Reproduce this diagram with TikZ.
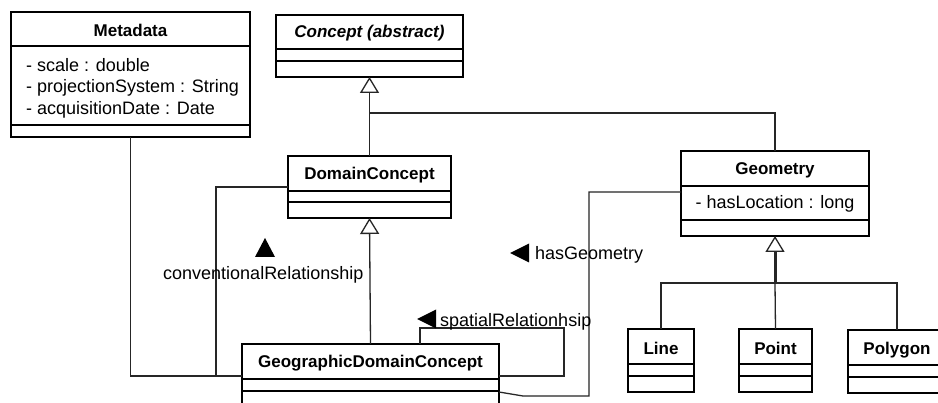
\documentclass[tikz,border=0pt]{standalone}
\usepackage{fontspec}
\setmainfont{Liberation Sans}
\usetikzlibrary{arrows.meta}
\tikzset{
  umlbox/.style={draw=black, line width=2.6pt, fill=white, inner sep=0pt, outer sep=0pt},
  divider/.style={draw=black, line width=1.4pt},
  conn/.style={draw=black!85, line width=1.3pt},
  gen/.style={conn, -{Triangle[open, length=16pt, width=19pt, fill=white]}},
  ttl/.style={font=\fontsize{17}{20}\selectfont\bfseries, inner sep=0pt},
  attr/.style={font=\fontsize{18}{20}\selectfont, inner sep=0pt, anchor=west},
  lbl/.style={font=\fontsize{18}{20}\selectfont, inner sep=0pt, anchor=base west},
  navtri/.style={fill=black, draw=none}
}
\begin{document}
\begin{tikzpicture}[x=1pt,y=-1pt]
\useasboundingbox (0,0) rectangle (938,403);
\clip (0,0) rectangle (938,403);
\fill[white] (0,0) rectangle (938,403);

% ---------- boxes ----------
\node[umlbox, minimum width=239pt, minimum height=125pt] (meta) at (130.5,74.5) {};
\node[umlbox, minimum width=187pt, minimum height=62pt] (concept) at (369.5,46) {};
\node[umlbox, minimum width=163pt, minimum height=62pt] (dc) at (369.5,187) {};
\node[umlbox, minimum width=188pt, minimum height=85pt] (geom) at (775,193.5) {};
\node[umlbox, minimum width=257pt, minimum height=76pt] (gdc) at (370.5,382) {};
\node[umlbox, minimum width=66pt, minimum height=63pt] (line) at (661,360.5) {};
\node[umlbox, minimum width=73pt, minimum height=63pt] (point) at (775.5,360.5) {};
\node[umlbox, minimum width=98pt, minimum height=63pt] (poly) at (897,361.5) {};

% ---------- dividers ----------
\draw[divider] (meta.west |- 0,46) -- (meta.east |- 0,46);
\draw[divider] (meta.west |- 0,125) -- (meta.east |- 0,125);
\draw[divider] (concept.west |- 0,49) -- (concept.east |- 0,49);
\draw[divider] (concept.west |- 0,61) -- (concept.east |- 0,61);
\draw[divider] (dc.west |- 0,191) -- (dc.east |- 0,191);
\draw[divider] (dc.west |- 0,202) -- (dc.east |- 0,202);
\draw[divider] (geom.west |- 0,186) -- (geom.east |- 0,186);
\draw[divider] (geom.west |- 0,220) -- (geom.east |- 0,220);
\draw[divider] (gdc.west |- 0,379) -- (gdc.east |- 0,379);
\draw[divider] (gdc.west |- 0,391) -- (gdc.east |- 0,391);
\draw[divider] (line.west |- 0,364) -- (line.east |- 0,364);
\draw[divider] (line.west |- 0,376) -- (line.east |- 0,376);
\draw[divider] (point.west |- 0,364) -- (point.east |- 0,364);
\draw[divider] (point.west |- 0,376) -- (point.east |- 0,376);
\draw[divider] (poly.west |- 0,365) -- (poly.east |- 0,365);
\draw[divider] (poly.west |- 0,377) -- (poly.east |- 0,377);

% ---------- texts ----------
\node[ttl] (metaT) at (130.5,30) {Metadata};
\node[attr] (metaA1) at (26,65) {- scale : double};
\node[attr] (metaA2) at (26,88) {- projectionSystem : String};
\node[attr] (metaA3) at (26,110) {- acquisitionDate : Date};
\node[ttl, font=\fontsize{17}{20}\selectfont\bfseries\itshape] (conceptT) at (369.5,33) {Concept (abstract)};
\node[ttl] (dcT) at (369.5,175) {DomainConcept};
\node[ttl] (geomT) at (775,170) {Geometry};
\node[attr, anchor=center] (geomA1) at (775,204) {- hasLocation : long};
\node[ttl] (gdcT) at (370.5,363) {GeographicDomainConcept};
\node[ttl] (lineT) at (661,348) {Line};
\node[ttl] (pointT) at (775.5,348) {Point};
\node[ttl] (polyT) at (897,350) {Polygon};

% ---------- coordinates ----------
\coordinate (jc) at (dc.north |- 0,113);
\coordinate (jg) at (geom.north |- 0,283);
\coordinate (jgt) at (geom.south |- 0,252);
\coordinate (m1) at (meta.south |- 0,376);
\coordinate (d1) at (216,187);
\coordinate (d2) at (216,376);
\coordinate (s1) at (420,344);
\coordinate (s2) at (420,328);
\coordinate (s3) at (564,328);
\coordinate (s4) at (564,376);
\coordinate (h0) at (499,392);
\coordinate (h1) at (523,396);
\coordinate (h2) at (589,396);
\coordinate (h3) at (589,192);

% ---------- generalisations ----------
\draw[gen] (dc.north) -- (concept.south);
\draw[conn] (geom.north) |- (jc);
\draw[gen] (gdc.north) -- (dc.south);
\draw[conn, line width=3pt] (jg) -- (jgt);
\draw[gen] (jg) -- (geom.south);
\draw[conn] (line.north) -- (line.north |- jg) -- (poly.north |- jg) -- (poly.north);
\draw[conn] (point.north) -- (jg);

% ---------- associations ----------
\draw[conn] (meta.south) -- (m1) -- (gdc.west |- m1);
\draw[conn] (dc.west |- d1) -- (d1) -- (d2) -- (gdc.west |- d2);
\draw[conn] (s1) -- (s2) -- (s3) -- (s4) -- (gdc.east |- s4);
\draw[conn] (gdc.east |- h0) -- (h1) -- (h2) -- (h3) -- (geom.west |- h3);

% ---------- association labels ----------
\fill[navtri] (255,257) -- (275,257) -- (265,238) -- cycle;
\node[lbl] (convL) at (163,280) {conventionalRelationship};
\fill[navtri] (510,253) -- (529,243.5) -- (529,262.5) -- cycle;
\node[lbl] (hasGL) at (535,260) {hasGeometry};
\fill[navtri] (417,319) -- (436,309.5) -- (436,328.5) -- cycle;
\node[lbl] (spatL) at (440,327) {spatialRelationhsip};
\end{tikzpicture}
\end{document}
